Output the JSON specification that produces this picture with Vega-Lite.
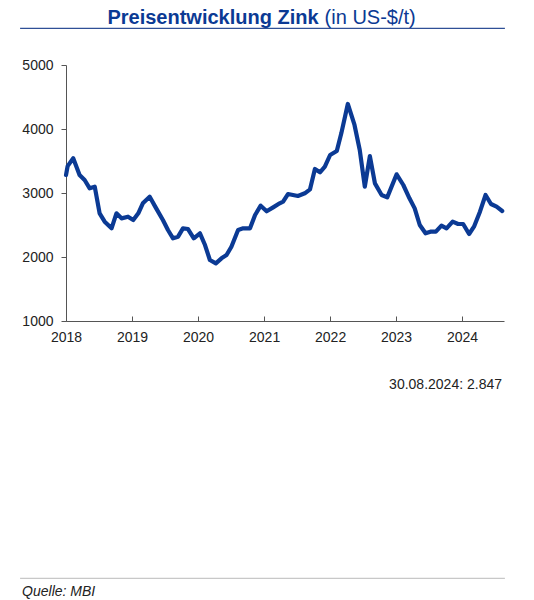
{
  "$schema": "https://vega.github.io/schema/vega-lite/v6.json",
  "width": 438,
  "height": 256,
  "autosize": {"type": "none"},
  "padding": {"left": 66, "top": 65, "right": 30, "bottom": 279},
  "background": "white",
  "config": {
    "view": {"stroke": null},
    "font": "Liberation Sans",
    "axis": {
      "labelFont": "Liberation Sans",
      "labelFontSize": 14,
      "labelColor": "#222222",
      "domainColor": "#555555",
      "tickColor": "#555555",
      "grid": false,
      "title": null
    }
  },
  "datasets": {
    "zink": [
      {"date": "2018-01-01", "price": 3281},
      {"date": "2018-01-10", "price": 3420},
      {"date": "2018-02-10", "price": 3542},
      {"date": "2018-03-17", "price": 3281},
      {"date": "2018-04-14", "price": 3203},
      {"date": "2018-05-12", "price": 3073},
      {"date": "2018-06-09", "price": 3099},
      {"date": "2018-07-06", "price": 2682},
      {"date": "2018-08-03", "price": 2552},
      {"date": "2018-09-10", "price": 2448},
      {"date": "2018-10-07", "price": 2682},
      {"date": "2018-11-04", "price": 2604},
      {"date": "2018-12-10", "price": 2630},
      {"date": "2019-01-08", "price": 2578},
      {"date": "2019-02-05", "price": 2682},
      {"date": "2019-03-02", "price": 2839},
      {"date": "2019-04-09", "price": 2943},
      {"date": "2019-05-15", "price": 2760},
      {"date": "2019-06-21", "price": 2578},
      {"date": "2019-07-19", "price": 2422},
      {"date": "2019-08-16", "price": 2292},
      {"date": "2019-09-13", "price": 2318},
      {"date": "2019-10-10", "price": 2448},
      {"date": "2019-11-07", "price": 2437},
      {"date": "2019-12-09", "price": 2292},
      {"date": "2020-01-12", "price": 2370},
      {"date": "2020-02-09", "price": 2187},
      {"date": "2020-03-07", "price": 1953},
      {"date": "2020-04-09", "price": 1901},
      {"date": "2020-05-10", "price": 1979},
      {"date": "2020-06-07", "price": 2031},
      {"date": "2020-07-04", "price": 2161},
      {"date": "2020-08-10", "price": 2422},
      {"date": "2020-09-07", "price": 2448},
      {"date": "2020-10-15", "price": 2448},
      {"date": "2020-11-12", "price": 2656},
      {"date": "2020-12-13", "price": 2802},
      {"date": "2021-01-15", "price": 2715},
      {"date": "2021-02-20", "price": 2776},
      {"date": "2021-03-28", "price": 2839},
      {"date": "2021-04-16", "price": 2864},
      {"date": "2021-05-13", "price": 2984},
      {"date": "2021-07-07", "price": 2953},
      {"date": "2021-08-14", "price": 2995},
      {"date": "2021-09-12", "price": 3057},
      {"date": "2021-10-09", "price": 3375},
      {"date": "2021-11-06", "price": 3323},
      {"date": "2021-12-03", "price": 3411},
      {"date": "2022-01-01", "price": 3594},
      {"date": "2022-02-07", "price": 3656},
      {"date": "2022-03-04", "price": 3932},
      {"date": "2022-04-09", "price": 4391},
      {"date": "2022-05-16", "price": 4063},
      {"date": "2022-06-14", "price": 3672},
      {"date": "2022-07-12", "price": 3099},
      {"date": "2022-08-09", "price": 3578},
      {"date": "2022-09-06", "price": 3151},
      {"date": "2022-10-13", "price": 2969},
      {"date": "2022-11-13", "price": 2932},
      {"date": "2023-01-04", "price": 3292},
      {"date": "2023-02-10", "price": 3125},
      {"date": "2023-03-16", "price": 2917},
      {"date": "2023-04-14", "price": 2760},
      {"date": "2023-05-12", "price": 2500},
      {"date": "2023-06-13", "price": 2370},
      {"date": "2023-07-10", "price": 2396},
      {"date": "2023-08-09", "price": 2396},
      {"date": "2023-09-09", "price": 2490},
      {"date": "2023-10-07", "price": 2448},
      {"date": "2023-11-10", "price": 2552},
      {"date": "2023-12-10", "price": 2516},
      {"date": "2024-01-07", "price": 2516},
      {"date": "2024-02-09", "price": 2359},
      {"date": "2024-03-07", "price": 2474},
      {"date": "2024-04-09", "price": 2708},
      {"date": "2024-05-10", "price": 2969},
      {"date": "2024-06-09", "price": 2828},
      {"date": "2024-07-10", "price": 2786},
      {"date": "2024-08-10", "price": 2719}
    ]
  },
  "layer": [
    {
      "data": {"name": "zink"},
      "mark": {"type": "line", "color": "#0b3a94", "strokeWidth": 4.2, "strokeJoin": "round", "strokeCap": "round", "clip": false},
      "encoding": {
        "x": {
          "field": "date",
          "type": "temporal",
          "scale": {"domain": ["2018-01-01", "2024-08-20"], "nice": false},
          "axis": {
            "format": "%Y",
            "tickCount": {"interval": "year", "step": 1},
            "tickSize": -5,
            "labelPadding": 14,
            "labelAlign": "center",
            "labelFlush": false,
            "labelOverlap": false
          }
        },
        "y": {
          "field": "price",
          "type": "quantitative",
          "scale": {"domain": [1000, 5000], "nice": false, "zero": false},
          "axis": {"values": [1000, 2000, 3000, 4000, 5000], "format": "d", "tickSize": 5, "labelPadding": 8}
        }
      }
    },
    {
      "data": {"values": [{}]},
      "mark": {"type": "rule", "color": "#2f4f96", "strokeWidth": 1.2, "clip": false},
      "encoding": {
        "x": {"datum": {"year": 2017, "month": 4, "date": 22}, "type": "temporal"},
        "x2": {"datum": {"year": 2024, "month": 8, "date": 25}},
        "y": {"datum": 5573}
      }
    },
    {
      "data": {"values": [{}]},
      "mark": {"type": "rule", "color": "#c8c8c8", "strokeWidth": 1.2, "clip": false},
      "encoding": {
        "x": {"datum": {"year": 2017, "month": 4, "date": 22}, "type": "temporal"},
        "x2": {"datum": {"year": 2024, "month": 8, "date": 25}},
        "y": {"datum": -3023}
      }
    },
    {
      "data": {"values": [{}]},
      "mark": {"type": "text", "text": "Preisentwicklung Zink", "font": "Liberation Sans", "fontWeight": "bold", "fontSize": 20, "color": "#0b3a94", "align": "right", "baseline": "alphabetic", "dx": -3, "clip": false},
      "encoding": {
        "x": {"datum": {"year": 2021, "month": 11, "date": 15}, "type": "temporal"},
        "y": {"datum": 5640}
      }
    },
    {
      "data": {"values": [{}]},
      "mark": {"type": "text", "text": "(in US-$/t)", "font": "Liberation Sans", "fontSize": 20, "color": "#0b3a94", "align": "left", "baseline": "alphabetic", "dx": 3, "clip": false},
      "encoding": {
        "x": {"datum": {"year": 2021, "month": 11, "date": 15}, "type": "temporal"},
        "y": {"datum": 5640}
      }
    },
    {
      "data": {"values": [{}]},
      "mark": {"type": "text", "text": "30.08.2024: 2.847", "font": "Liberation Sans", "fontSize": 14, "color": "#222222", "align": "right", "baseline": "alphabetic", "clip": false},
      "encoding": {
        "x": {"datum": {"year": 2024, "month": 8, "date": 9}, "type": "temporal"},
        "y": {"datum": -62}
      }
    },
    {
      "data": {"values": [{}]},
      "mark": {"type": "text", "text": "Quelle: MBI", "font": "Liberation Sans", "fontSize": 14, "fontStyle": "italic", "color": "#222222", "align": "left", "baseline": "alphabetic", "clip": false},
      "encoding": {
        "x": {"datum": {"year": 2017, "month": 5, "date": 3}, "type": "temporal"},
        "y": {"datum": -3297}
      }
    }
  ]
}
